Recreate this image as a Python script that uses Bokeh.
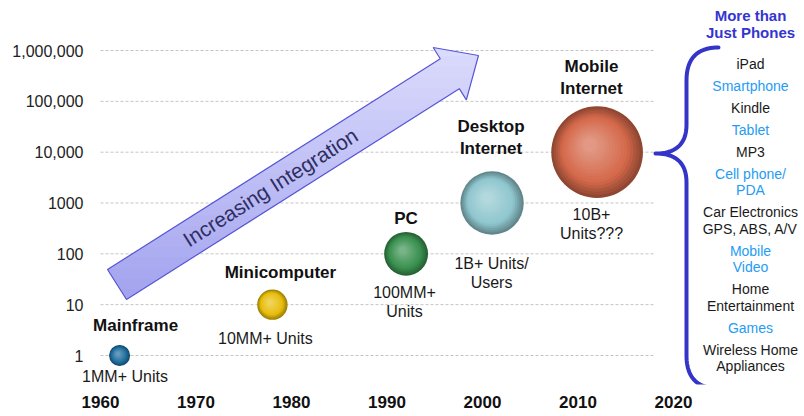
import numpy as np
from bokeh.plotting import figure
from bokeh.models import FixedTicker, Range1d, ColumnDataSource, LabelSet
from bokeh.core.properties import value
from bokeh.embed import file_html
from bokeh.resources import INLINE

# ---------------- data ----------------
years = [1962, 1978, 1992, 2001, 2012]
integration_level = [1, 10, 100, 1000, 10000]
units_shipped = [1e6, 1e7, 1e8, 1e9, 1e10]
eras = ["Mainframe", "Minicomputer", "PC", "Desktop\nInternet", "Mobile\nInternet"]
unit_labels = ["1MM+ Units", "10MM+ Units", "100MM+\nUnits", "1B+ Units/\nUsers", "10B+\nUnits???"]
bubble_colors = ["#1f6e9e", "#e8be0c", "#39904f", "#8fc6ce", "#d4684a"]

x_ticks = [1960, 1970, 1980, 1990, 2000, 2010, 2020]
y_ticks = [1, 10, 100, 1000, 10000, 100000, 1000000]
y_tick_labels = ["1", "10", "100", "1000", "10,000", "100,000", "1,000,000"]

devices_header = "More than\nJust Phones"
devices = ["iPad", "Smartphone", "Kindle", "Tablet", "MP3", "Cell phone/\nPDA",
           "Car Electronics\nGPS, ABS, A/V", "Mobile\nVideo", "Home\nEntertainment",
           "Games", "Wireless Home\nAppliances"]
arrow_label = "Increasing Integration"

# ---------------- layout ----------------
FIG_W, FIG_H = 804, 416
BORDER_L, BORDER_B = 80, 32
PAGE = 0
PX0, PY0 = 100.0, 355.0     # page position of (1960, 1)
PPY = 9.55                  # px per year
PPD = 50.83                 # px per decade

def x_of(px):
    return 1960 + (px - PX0) / PPY

def y_of(py):
    return 10 ** ((PY0 - py) / PPD)

def px_of(x):
    return PX0 + (x - 1960) * PPY

def py_of(y):
    return PY0 - np.log10(y) * PPD

FONT = value("Liberation Sans")

p = figure(width=FIG_W, height=FIG_H, output_backend="svg", toolbar_location=None,
           y_axis_type="log",
           x_range=Range1d(x_of(PAGE + BORDER_L), x_of(PAGE + FIG_W)),
           y_range=Range1d(y_of(PAGE + FIG_H - BORDER_B), y_of(PAGE)),
           min_border_left=BORDER_L, min_border_right=0, min_border_top=0,
           min_border_bottom=BORDER_B)
p.outline_line_color = None
p.grid.visible = False
p.background_fill_color = "white"
p.border_fill_color = "white"

xa = p.xaxis[0]
xa.ticker = FixedTicker(ticks=x_ticks)
xa.axis_line_color = None
xa.major_tick_line_color = None
xa.minor_tick_line_color = None
xa.major_tick_out = 0
xa.minor_tick_out = 0
xa.major_label_standoff = 11
xa.major_label_text_font = "Liberation Sans"
xa.major_label_text_font_size = "17px"
xa.major_label_text_font_style = "bold"
xa.major_label_text_color = "#111111"

ya = p.yaxis[0]
ya.ticker = FixedTicker(ticks=y_ticks)
ya.major_label_overrides = dict(zip(y_ticks, y_tick_labels))
ya.axis_line_color = None
ya.major_tick_line_color = None
ya.minor_tick_line_color = None
ya.major_tick_out = 0
ya.minor_tick_out = 0
ya.major_label_standoff = -3
ya.major_label_text_font = "Liberation Sans"
ya.major_label_text_font_size = "16px"
ya.major_label_text_color = "#222222"

# dashed gridlines
grid_end = x_of(655)
p.segment(x0=[x_ticks[0]] * len(y_ticks), y0=y_ticks, x1=[grid_end] * len(y_ticks), y1=y_ticks,
          line_color="#c4c4c4", line_width=1, line_dash="3 2")

# ---------------- colour helpers ----------------
def hex2rgb(h):
    h = h.lstrip("#")
    return np.array([int(h[i:i + 2], 16) for i in (0, 2, 4)], dtype=float)

def rgb2hex(c):
    c = np.clip(np.round(c), 0, 255).astype(int)
    return "#%02x%02x%02x" % tuple(c)

def mix(a, b, t):
    return a + (b - a) * t

# ---------------- arrow ----------------
tail = np.array([116.5, 284.0])
tip = np.array([478.0, 55.0])
vec = tip - tail
L = np.hypot(*vec)
d = vec / L
n = np.array([d[1], -d[0]])   # towards upper-left
sw, hw, hl = 17.75, 31.0, 34.0
Ls = L - hl
local = [(0, sw), (Ls, sw), (Ls, hw), (L, 0), (Ls, -hw), (Ls, -sw), (0, -sw)]
poly = [tuple(tail + u * d + w * n) for u, w in local]

def clip_half(pts, f):
    out = []
    m = len(pts)
    for i in range(m):
        P, Q = pts[i], pts[(i + 1) % m]
        fp, fq = f(P), f(Q)
        if fp >= 0:
            out.append(P)
        if (fp >= 0) != (fq >= 0):
            t = fp / (fp - fq)
            out.append((P[0] + t * (Q[0] - P[0]), P[1] + t * (Q[1] - P[1])))
    return out

ys_all = [pt[1] for pt in poly]
ytop, ybot = min(ys_all) - 1, max(ys_all) + 1
nb = 24
edges = np.linspace(ytop, ybot, nb + 1)
light, dark = hex2rgb("#dcdcfd"), hex2rgb("#a2a2ee")
bxs, bys, bcs = [], [], []
for k in range(nb):
    y0, y1 = edges[k] - 0.6, edges[k + 1] + 0.6
    part = clip_half(poly, lambda P: P[1] - y0)
    part = clip_half(part, lambda P: y1 - P[1])
    if len(part) < 3:
        continue
    bxs.append([x_of(P[0]) for P in part])
    bys.append([y_of(P[1]) for P in part])
    bcs.append(rgb2hex(mix(light, dark, (k + 0.5) / nb)))
p.patches(xs=bxs, ys=bys, fill_color=bcs, line_color=None)
p.patch(x=[x_of(P[0]) for P in poly], y=[y_of(P[1]) for P in poly],
        fill_color=None, line_color="#5656d6", line_width=1.2)

lab_pt = tail + 181.6 * d
ang = np.arctan2(-d[1], d[0])
p.text(x=[x_of(lab_pt[0])], y=[y_of(lab_pt[1])], text=[arrow_label], angle=ang,
       text_align="center", text_baseline="middle", text_font=FONT,
       text_font_size="21px", text_color="#2e2e62")

# ---------------- bubbles ----------------
NL = 16
bx, by, bs, bc = [], [], [], []
for yr, lv, un, col in zip(years, integration_level, units_shipped, bubble_colors):
    R = 10.5 * (un / 1e6) ** 0.16
    cx, cy = px_of(yr), py_of(lv)
    base = hex2rgb(col)
    edge = mix(base, np.zeros(3), 0.32)
    hi = mix(base, np.full(3, 255.0), 0.32)
    for k in range(NL):
        t = k / (NL - 1)
        r = R * (1 - 0.85 * t)
        off = 0.16 * R * t
        if t < 0.3:
            c = mix(edge, base, t / 0.3)
        else:
            c = mix(base, hi, (t - 0.3) / 0.7)
        bx.append(x_of(cx - off))
        by.append(y_of(cy - off))
        bs.append(2 * r)
        bc.append(rgb2hex(c))
p.scatter(x=bx, y=by, size=bs, marker="circle", fill_color=bc, line_color=None)

# ---------------- bubble labels ----------------
name_dx = [16, 8, 0, -1, -5.6]
name_dy = [-30, -32, -35, -65.5, -74.7]
sub_dx = [5.4, -7, -1.6, -0.5, -5.6]
sub_dy = [21, 34, 48, 69.5, 72]

def block_lines(label, cx, cy, pitch):
    lines = label.split("\n")
    nl = len(lines)
    out = []
    for i, ln in enumerate(lines):
        out.append((ln, cx, cy + (i - (nl - 1) / 2) * pitch))
    return out

nx, ny, nt = [], [], []
sx, sy, st = [], [], []
for i in range(len(years)):
    cx, cy = px_of(years[i]), py_of(integration_level[i])
    for ln, x, y in block_lines(eras[i], cx + name_dx[i], cy + name_dy[i], 22):
        nx.append(x_of(x)); ny.append(y_of(y)); nt.append(ln)
    for ln, x, y in block_lines(unit_labels[i], cx + sub_dx[i], cy + sub_dy[i], 19):
        sx.append(x_of(x)); sy.append(y_of(y)); st.append(ln)

p.add_layout(LabelSet(x="x", y="y", text="t", source=ColumnDataSource(dict(x=nx, y=ny, t=nt)),
                      text_align="center", text_baseline="middle", text_font=FONT,
                      text_font_size="17px", text_font_style="bold", text_color="#111111"))
p.add_layout(LabelSet(x="x", y="y", text="t", source=ColumnDataSource(dict(x=sx, y=sy, t=st)),
                      text_align="center", text_baseline="middle", text_font=FONT,
                      text_font_size="16px", text_color="#1a1a1a"))

# ---------------- right panel ----------------
LIST_X = 750
hx, hy, ht = [], [], []
for ln, x, y in block_lines(devices_header, LIST_X, 23.5, 17):
    hx.append(x_of(x)); hy.append(y_of(y)); ht.append(ln)
p.text(x=hx, y=hy, text=ht, text_align="center", text_baseline="middle", text_font=FONT,
       text_font_size="15px", text_font_style="bold", text_color="#3535cf")

lx, ly, lt, lc = [], [], [], []
ycur = 63.0
for i, item in enumerate(devices):
    col = "#1a1a1a" if i % 2 == 0 else "#249cf5"
    lines = item.split("\n")
    for j, ln in enumerate(lines):
        lx.append(x_of(LIST_X)); ly.append(y_of(ycur + j * 16.5)); lt.append(ln); lc.append(col)
    ycur += (len(lines) - 1) * 16.5 + 22
p.text(x=lx, y=ly, text=lt, text_color=lc, text_align="center", text_baseline="middle",
       text_font=FONT, text_font_size="14px")

# brace
def qbez(p0, c, p1, m=24):
    t = np.linspace(0, 1, m)[:, None]
    p0, c, p1 = map(np.array, (p0, c, p1))
    return (1 - t) ** 2 * p0 + 2 * (1 - t) * t * c + t ** 2 * p1

BX, TIPX, TIPY = 686, 655, 153
seg = [
    qbez((718, 47), (BX, 47), (BX, 80)),
    qbez((BX, 80), (BX, 102), (BX, 124)),
    qbez((BX, 124), (BX, TIPY), (TIPX, TIPY)),
    qbez((TIPX, TIPY), (BX, TIPY), (BX, 182)),
    qbez((BX, 182), (BX, 268), (BX, 355)),
    qbez((BX, 355), (BX, 388), (718, 388)),
]
path = np.vstack(seg)
p.line(x=[x_of(v) for v in path[:, 0]], y=[y_of(v) for v in path[:, 1]],
       line_color="#3434c8", line_width=4, line_join="round", line_cap="round")

open("out.html", "w").write(file_html(p, INLINE))
